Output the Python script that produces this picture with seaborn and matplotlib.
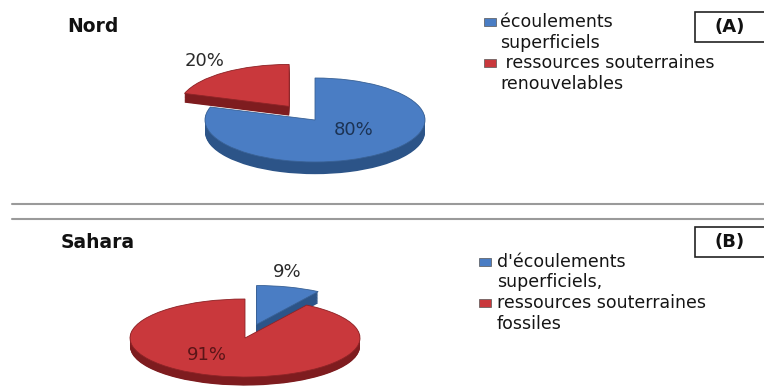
import numpy as np
import matplotlib
matplotlib.use("Agg")
import matplotlib.pyplot as plt
from matplotlib.patches import Rectangle
import seaborn as sns

# --- data -------------------------------------------------------------
nord_labels = ["écoulements\nsuperficiels", " ressources souterraines\nrenouvelables"]
nord_values = [80, 20]
sahara_labels = ["d'écoulements\nsuperficiels,", "ressources souterraines\nfossiles"]
sahara_values = [9, 91]

sns.set_theme(style="white")
plt.rcParams["font.family"] = ["DejaVu Sans"]

W, H = 764, 391
fig = plt.figure(figsize=(W / 100, H / 100), dpi=100)
fig.patch.set_facecolor("white")

BLUE, RED = sns.color_palette(["#4A7DC4", "#C9383C"])
BLUE_SIDE, RED_SIDE = "#2C5488", "#7E1C1F"
BLUE_EDGE, RED_EDGE = "#3A6296", "#8E2427"
TXT = "#151515"


def fx(x):
    return x / W


def fy(y):
    return 1 - y / H


def pie3d(cx, cy, rx, ry, xlim, ylim, values, colors, sides, edges,
          explode, depth):
    """Flattened pie with a visible side band; cx, cy, rx, ry in pixels."""
    w = (xlim[1] - xlim[0]) * rx
    h = (ylim[1] - ylim[0]) * ry
    left = cx + xlim[0] * rx
    top = cy - ylim[1] * ry
    ax = fig.add_axes([fx(left), fy(top + h), w / W, h / H])
    n = len(values)
    # each slice: side band first, then its top face
    for i in range(n):
        side_cols = ["none"] * n
        side_cols[i] = sides[i]
        for d in np.linspace(depth[i], 0.01, 16):
            ax.pie(values, colors=side_cols, startangle=90,
                   counterclock=False, explode=explode, center=(0, -d),
                   wedgeprops=dict(linewidth=0))
        top_cols = ["none"] * n
        top_cols[i] = colors[i]
        wedges, _ = ax.pie(values, colors=top_cols, startangle=90,
                           counterclock=False, explode=explode,
                           wedgeprops=dict(linewidth=0))
        wedges[i].set_edgecolor(edges[i])
        wedges[i].set_linewidth(0.6)
    ax.set_aspect("auto")
    ax.set_xlim(*xlim)
    ax.set_ylim(*ylim)
    ax.axis("off")
    return ax


def legend_block(x_sq, x_txt, rows, colors, size=12.5):
    for (y1, y2, label), c in zip(rows, colors):
        l1, l2 = label.split("\n")
        fig.patches.append(Rectangle((fx(x_sq), fy(y1 + 4)), 12 / W, 8 / H,
                                     transform=fig.transFigure,
                                     facecolor=c, edgecolor="#555555",
                                     linewidth=0.5))
        fig.text(fx(x_txt), fy(y1), l1, ha="left", va="center",
                 fontsize=size, color=TXT)
        fig.text(fx(x_txt), fy(y2), l2, ha="left", va="center",
                 fontsize=size, color=TXT)


def tag_box(y_top, y_bot, text):
    fig.patches.append(Rectangle((fx(695), fy(y_bot)), 80 / W,
                                 (y_bot - y_top) / H,
                                 transform=fig.transFigure,
                                 facecolor="white", edgecolor="#222222",
                                 linewidth=1.2))
    fig.text(fx(730), fy((y_top + y_bot) / 2), text, ha="center",
             va="center", fontsize=13, fontweight="bold", color="#111111")


# --- Nord -------------------------------------------------------------
ax1 = pie3d(315, 120, 110, 42, (-1.6, 1.6), (-1.6, 1.8), nord_values,
            [BLUE, RED], [BLUE_SIDE, RED_SIDE], [BLUE_EDGE, RED_EDGE],
            explode=[0, 0.4], depth=[0.29, 0.22])
ax1.text(0.35, -0.24, f"{nord_values[0]}%", ha="center", va="center",
         fontsize=13, color="#1c3354")
ax1.text(-1.0, 1.40, f"{nord_values[1]}%", ha="center", va="center",
         fontsize=13, color="#2a2a2a")
fig.text(fx(67), fy(26), "Nord", ha="left", va="center", fontsize=13.5,
         fontweight="bold", color="#111111")
legend_block(484, 500, [(22, 43, nord_labels[0]), (63, 84, nord_labels[1])],
             [BLUE, RED])
tag_box(12, 42, "(A)")

# separator lines
for yl in (204, 219):
    fig.add_artist(plt.Line2D([fx(12), 1], [fy(yl), fy(yl)],
                              transform=fig.transFigure,
                              color="#9a9a9a", linewidth=1.5))

# --- Sahara -----------------------------------------------------------
ax2 = pie3d(245, 338, 115, 39, (-1.5, 1.5), (-1.5, 2.2), sahara_values,
            [BLUE, RED], [BLUE_SIDE, RED_SIDE], [BLUE_EDGE, RED_EDGE],
            explode=[0.36, 0], depth=[0.3, 0.22])
ax2.text(0.37, 1.69, f"{sahara_values[0]}%", ha="center", va="center",
         fontsize=13, color="#2a2a2a")
ax2.text(-0.33, -0.44, f"{sahara_values[1]}%", ha="center", va="center",
         fontsize=13, color="#5a1518")
fig.text(fx(61), fy(242), "Sahara", ha="left", va="center", fontsize=13.5,
         fontweight="bold", color="#111111")
legend_block(479, 497, [(262, 282, sahara_labels[0]),
                        (303, 324, sahara_labels[1])], [BLUE, RED])
tag_box(227, 257, "(B)")

fig.savefig("out.png", dpi=100, facecolor="white")
